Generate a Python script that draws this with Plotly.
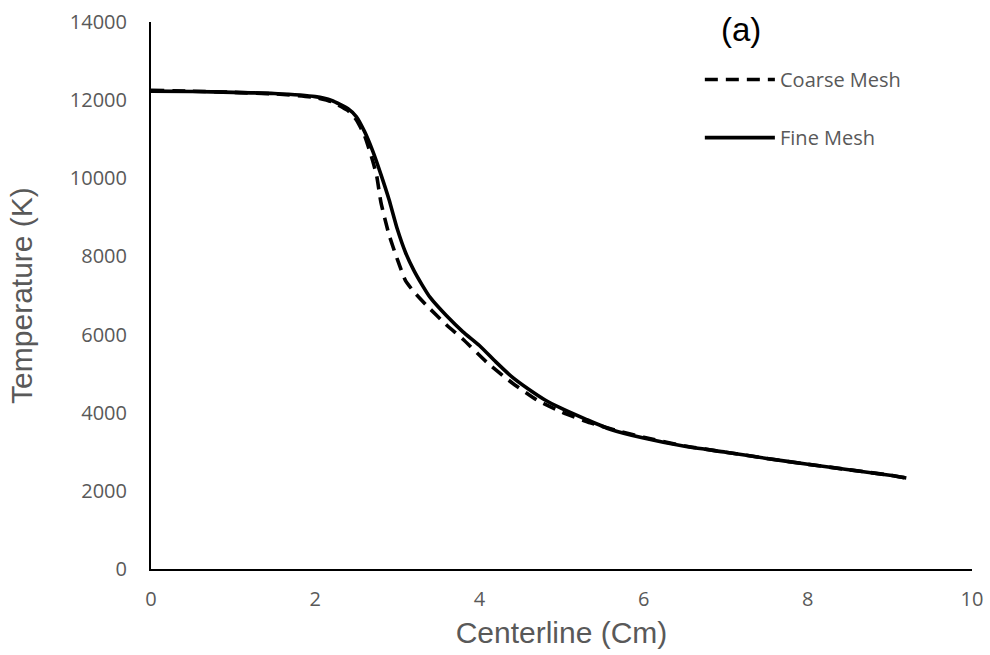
import plotly.graph_objects as go

# Centreline temperature profiles for two mesh resolutions
coarse_x = [0, 0.5, 1.0, 1.5, 2.0, 2.2, 2.4, 2.5, 2.6, 2.7, 2.75, 2.8, 2.9, 3.0,
            3.1, 3.2, 3.35, 3.6, 3.8, 4.1, 4.4, 4.7, 5.0, 5.35, 5.7, 6.0, 6.5,
            7.0, 7.5, 8.0, 8.5, 9.0, 9.2]
coarse_t = [12250, 12230, 12200, 12160, 12070, 11960, 11730, 11500, 11100, 10450,
            10050, 9390, 8550, 7930, 7380, 7100, 6760, 6245, 5880, 5270, 4760,
            4325, 4020, 3740, 3530, 3370, 3150, 2990, 2830, 2680, 2540, 2400, 2330]

fine_x = [0, 0.5, 1.0, 1.5, 2.0, 2.2, 2.4, 2.5, 2.6, 2.7, 2.8, 2.9, 3.0, 3.1,
          3.2, 3.3, 3.4, 3.6, 3.8, 4.0, 4.2, 4.4, 4.6, 4.8, 5.0, 5.3, 5.6, 6.0,
          6.5, 7.0, 7.5, 8.0, 8.5, 9.0, 9.2]
fine_t = [12230, 12220, 12200, 12170, 12090, 11990, 11780, 11580, 11200, 10700,
          10100, 9450, 8700, 8100, 7650, 7280, 6950, 6480, 6070, 5720, 5300, 4910,
          4600, 4325, 4110, 3830, 3570, 3350, 3140, 2990, 2830, 2680, 2540, 2400, 2330]

x_ticks = [0, 2, 4, 6, 8, 10]
y_ticks = [0, 2000, 4000, 6000, 8000, 10000, 12000, 14000]

series_names = ["Coarse Mesh", "Fine Mesh"]
panel_label = "(a)"

GREY = "#595959"
TICK_FONT = dict(family="Open Sans", size=20, color=GREY)
TITLE_FONT = dict(family="Liberation Sans", size=30, color=GREY)

fig = go.Figure()
fig.add_trace(go.Scatter(
    x=coarse_x, y=coarse_t, mode="lines", name=series_names[0],
    line=dict(color="black", width=3.6, dash="13px,8px", shape="spline", smoothing=0.5),
    showlegend=False,
))
fig.add_trace(go.Scatter(
    x=fine_x, y=fine_t, mode="lines", name=series_names[1],
    line=dict(color="black", width=3.6, shape="spline", smoothing=0.5),
    showlegend=False,
))

# Legend drawn as line samples plus labels in paper coordinates
def px_x(p):
    return (p - 151.5) / 820.5

def px_y(p):
    return (569 - p) / 546.5

legend_rows = [(series_names[0], 80, "13px,8px"), (series_names[1], 138, "solid")]
for name, ypx, dash in legend_rows:
    fig.add_shape(type="line", xref="paper", yref="paper",
                  x0=px_x(705), x1=px_x(775), y0=px_y(ypx), y1=px_y(ypx),
                  line=dict(color="black", width=3.6, dash=dash))
    fig.add_annotation(text=name, xref="paper", yref="paper",
                       x=px_x(778), y=px_y(ypx), xanchor="left", yanchor="middle",
                       showarrow=False, font=TICK_FONT)

fig.add_annotation(text=panel_label, xref="paper", yref="paper",
                   x=px_x(741), y=px_y(30), xanchor="center", yanchor="middle",
                   showarrow=False,
                   font=dict(family="Liberation Sans", size=33, color="black"))

fig.update_layout(
    width=990, height=655,
    margin=dict(l=151, r=18, t=22, b=86),
    paper_bgcolor="white", plot_bgcolor="white",
    xaxis=dict(
        range=[0, 10], tickvals=x_ticks, tickformat="d", showgrid=False, zeroline=False,
        showline=True, linecolor="black", linewidth=2, ticks="", automargin=False,
        tickfont=TICK_FONT, ticklabelstandoff=11,
        title=dict(text="Centerline (Cm)", font=TITLE_FONT, standoff=11),
    ),
    yaxis=dict(
        range=[0, 14000], tickvals=y_ticks, tickformat="d", showgrid=False, zeroline=False,
        showline=True, linecolor="black", linewidth=2, ticks="", automargin=False,
        tickfont=TICK_FONT, ticklabelstandoff=18,
        title=dict(text="Temperature (K)", font=TITLE_FONT, standoff=28),
    ),
)

fig.write_html("out.html")
